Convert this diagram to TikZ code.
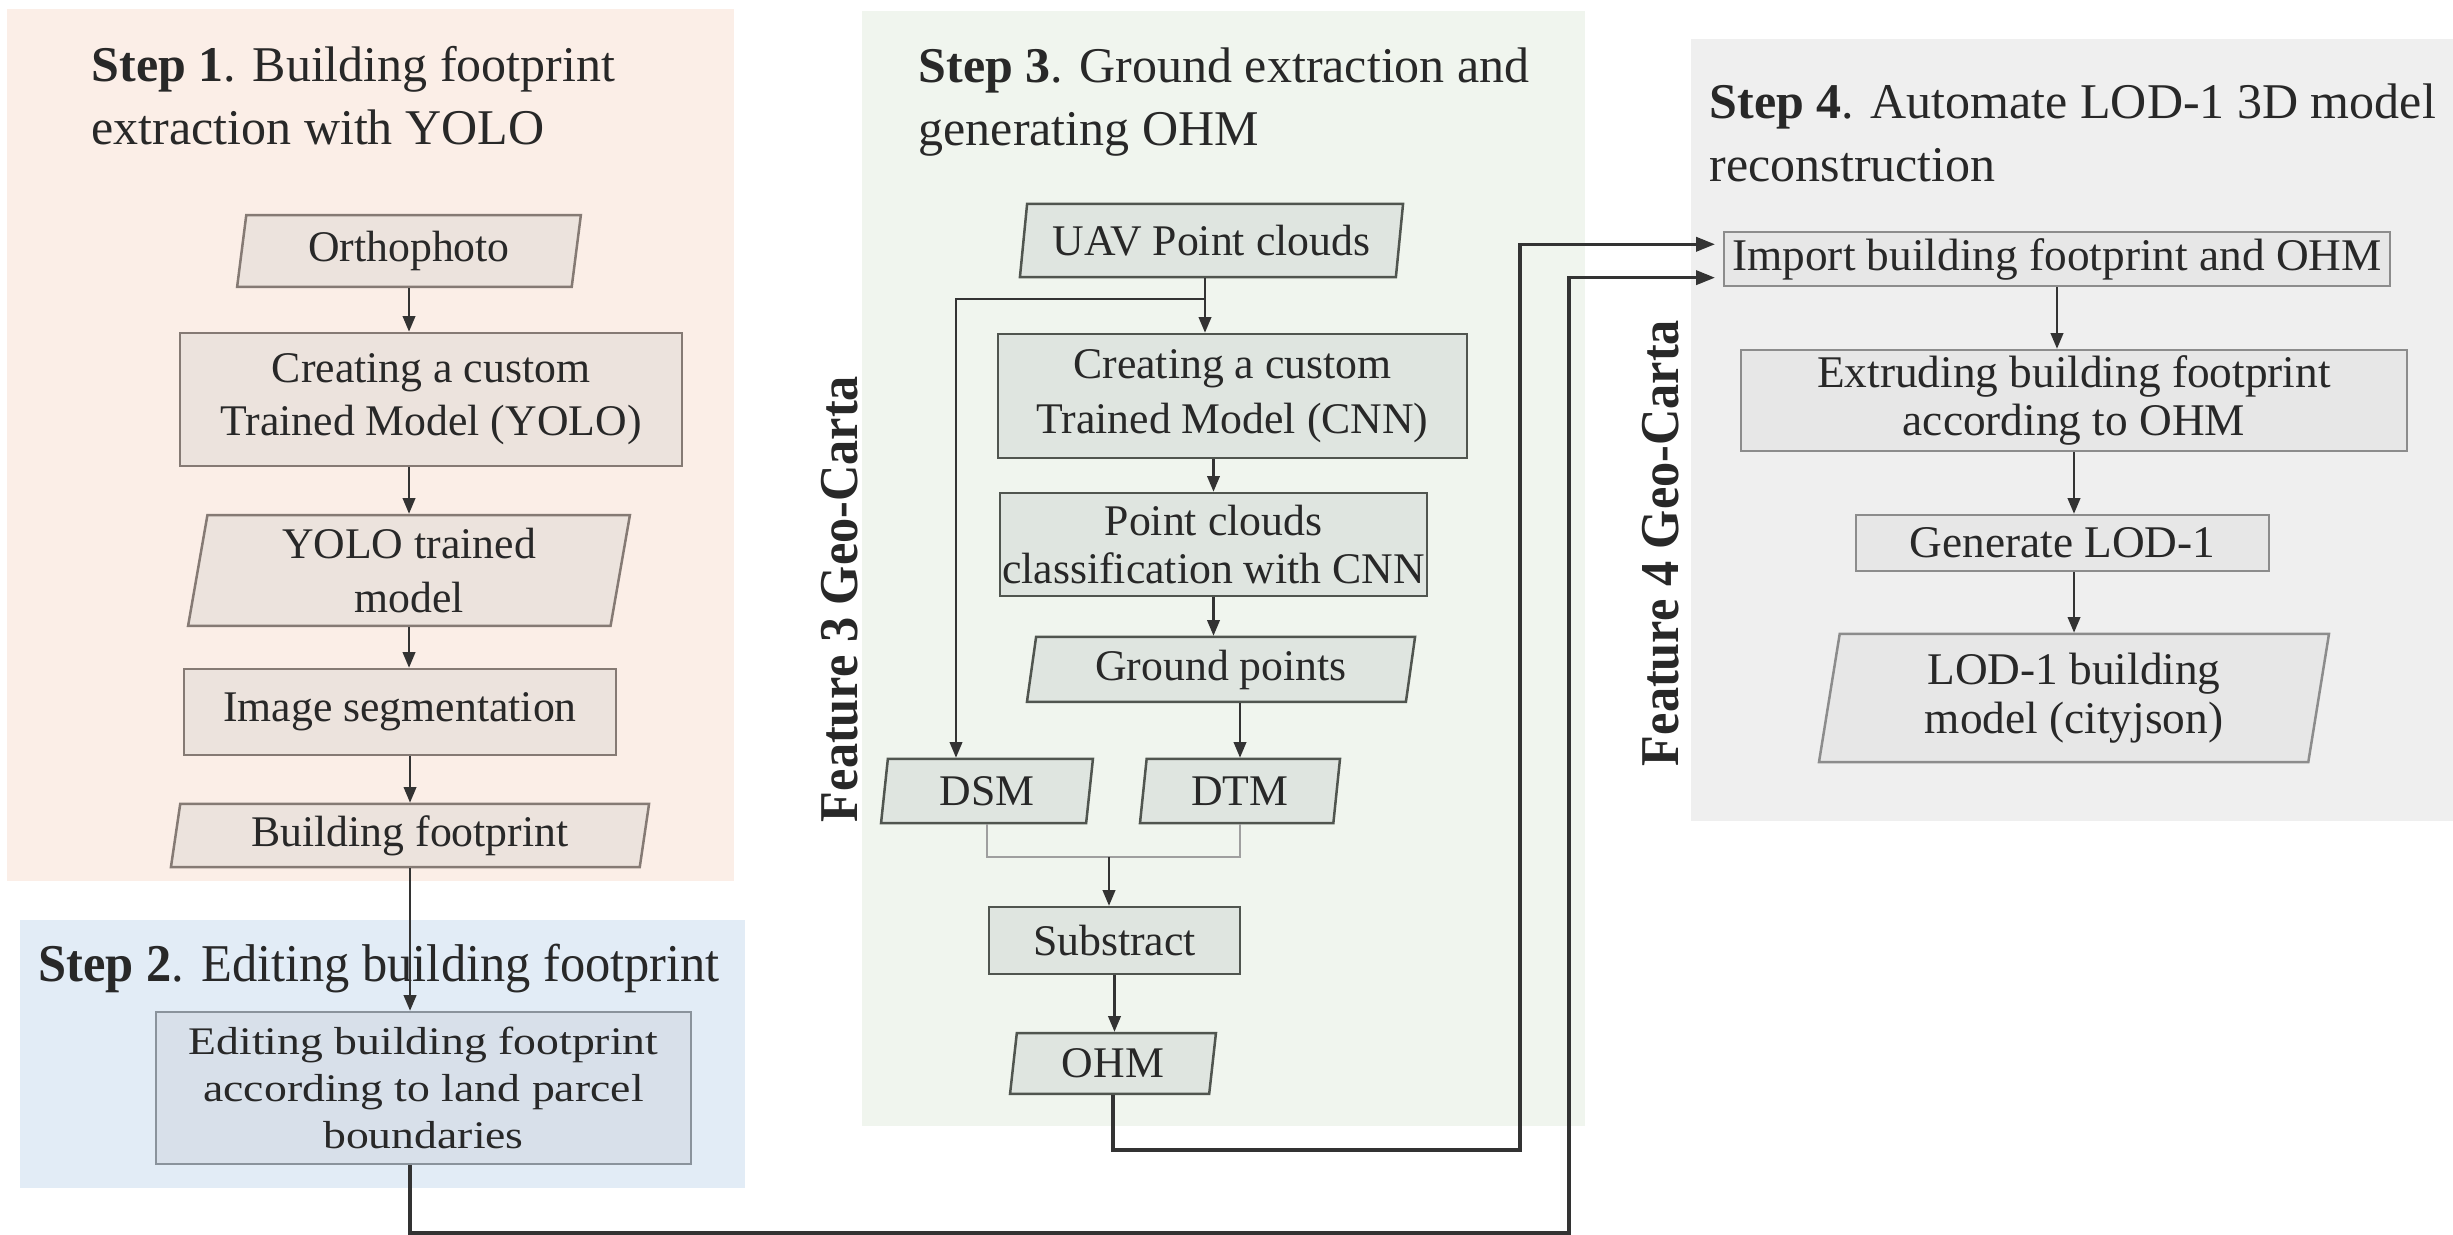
\documentclass[tikz,border=0pt]{standalone}
\usepackage{fontspec}
\setmainfont{Liberation Serif}
\newfontfamily\wideserif[FakeStretch=1.17]{Liberation Serif}
\newfontfamily\titleserif[FakeStretch=0.95]{Liberation Serif}
\newfontfamily\featserif[FakeStretch=0.92]{Liberation Serif}
\usetikzlibrary{shapes.geometric,arrows.meta,calc}
\definecolor{pOne}{HTML}{FBEEE7}
\definecolor{nOne}{HTML}{ECE3DD}
\definecolor{bOne}{HTML}{857A74}
\definecolor{pTwo}{HTML}{E2ECF6}
\definecolor{nTwo}{HTML}{D8E0EA}
\definecolor{bTwo}{HTML}{8A939C}
\definecolor{pThree}{HTML}{F0F5EE}
\definecolor{nThree}{HTML}{DFE5E0}
\definecolor{bThree}{HTML}{50554F}
\definecolor{pFour}{HTML}{EFEFEF}
\definecolor{nFour}{HTML}{E7E7E7}
\definecolor{bFour}{HTML}{8C8C8C}
\definecolor{txt}{HTML}{282828}
\definecolor{lnk}{HTML}{333333}
\tikzset{
  proc/.style={rectangle, draw, line width=0.8pt, inner sep=0pt, align=center, text=txt,
    font=\fontsize{14}{17}\selectfont},
  datain/.style={trapezium, trapezium left angle=77, trapezium right angle=103,
    trapezium stretches body=true, draw, line width=0.8pt, inner sep=0pt, align=center,
    text=txt, font=\fontsize{14}{17}\selectfont},
  title/.style={anchor=north west, inner sep=0pt, align=left, text=txt,
    font=\fontsize{16}{20.2}\selectfont},
  feat/.style={rotate=90, inner sep=0pt, text=txt, font=\featserif\fontsize{17.5}{20}\selectfont\bfseries},
  flow/.style={draw=lnk, line width=0.7pt, -{Triangle[length=5pt,width=4pt]}},
  link/.style={draw=lnk, line width=1pt, -{Triangle[length=6pt,width=4.5pt]}, shorten >=2.5pt},
  joinline/.style={draw=gray!75, line width=0.7pt},
  sone/.style={fill=nOne, draw=bOne},
  stwo/.style={fill=nTwo, draw=bTwo},
  sthree/.style={fill=nThree, draw=bThree},
  sfour/.style={fill=nFour, draw=bFour, font=\fontsize{14.5}{15.5}\selectfont},
}
\begin{document}
\begin{tikzpicture}[x=0.32pt,y=-0.32pt]
\useasboundingbox (0,0) rectangle (2453,1235);
% panels
\fill[pOne] (7,9) rectangle (734,881);
\fill[pTwo] (20,920) rectangle (745,1188);
\fill[pThree] (862,11) rectangle (1585,1126);
\fill[pFour] (1691,39) rectangle (2453,821);
% titles
\node[title] (t1) at (91,46) {\textbf{Step 1}. Building footprint\\extraction with YOLO};
\node[title, anchor=base west, font=\titleserif\fontsize{17}{20}\selectfont] (t2) at (38,982) {\textbf{Step 2}. Editing building footprint};
\node[title] (t3) at (918,47) {\textbf{Step 3}. Ground extraction and\\generating OHM};
\node[title] (t4) at (1709,83) {\textbf{Step 4}. Automate LOD-1 3D model\\reconstruction};
\node[feat] (f3) at (840,599) {Feature 3 Geo-Carta};
\node[feat] (f4) at (1661,543) {Feature 4 Geo-Carta};
% step 1
\node[datain, sone, minimum width=110pt, minimum height=23pt] (ortho) at (409,251) {Orthophoto};
\node[proc, sone, minimum width=160.6pt, minimum height=42.6pt] (cyolo) at (431,399.5) {Creating a custom\\Trained Model (YOLO)};
\node[datain, sone, minimum width=141.4pt, minimum height=35.5pt] (yolom) at (409,570.5) {YOLO trained\\model};
\node[proc, sone, minimum width=138.2pt, minimum height=27.5pt] (imgseg) at (400,712) {Image segmentation};
\node[datain, sone, minimum width=153pt, minimum height=20.2pt] (bfp) at (410,835.5) {Building footprint};
% step 2
\node[proc, stwo, minimum width=171.2pt, minimum height=48.6pt, font=\wideserif\fontsize{12.5}{15}\selectfont] (edit) at (423.5,1088) {Editing building footprint\\according to land parcel\\boundaries};
% step 3
\node[datain, sthree, minimum width=122.6pt, minimum height=23.4pt] (uav) at (1211.5,240.5) {UAV Point clouds};
\node[proc, sthree, minimum width=150pt, minimum height=39.7pt, font=\fontsize{14}{17.6}\selectfont] (cnn) at (1232.5,396) {Creating a custom\\Trained Model (CNN)};
\node[proc, sthree, minimum width=136.6pt, minimum height=33pt, font=\fontsize{14}{15.4}\selectfont] (pcc) at (1213.5,544.5) {Point clouds\\classification with CNN};
\node[datain, sthree, minimum width=124.2pt, minimum height=20.8pt] (gp) at (1221,669.5) {Ground points};
\node[datain, sthree, minimum width=67.8pt, minimum height=20.5pt] (dsm) at (987,791) {DSM};
\node[datain, sthree, minimum width=64pt, minimum height=20.5pt] (dtm) at (1240,791) {DTM};
\node[proc, sthree, minimum width=80.3pt, minimum height=21.4pt] (sub) at (1114.5,940.5) {Substract};
\node[datain, sthree, minimum width=65.9pt, minimum height=19.5pt] (ohm) at (1113,1063.5) {OHM};
% step 4
\node[proc, sfour, minimum width=213.1pt, minimum height=17.3pt] (imp) at (2057,259) {Import building footprint and OHM};
\node[proc, sfour, minimum width=213.1pt, minimum height=32.3pt] (ext) at (2074,400.5) {Extruding building footprint\\according to OHM};
\node[proc, sfour, minimum width=132.2pt, minimum height=17.9pt] (gen) at (2062.5,543) {Generate LOD-1};
\node[datain, sfour, minimum width=163.2pt, minimum height=41pt] (lod) at (2074,698) {LOD-1 building\\model (cityjson)};
% helper coordinates
\coordinate (j1) at (1205,299);
\coordinate (j2) at (956,299);
\coordinate (j3) at (1109,857);
\coordinate (r1) at (1520,1150);
\coordinate (r2) at (1569,1233);
\coordinate (ia) at ($(imp.north west)!0.24!(imp.south west)$);
\coordinate (ib) at ($(imp.north west)!0.83!(imp.south west)$);
% step 1 flow
\draw[flow] (ortho.south) -- (ortho.south |- cyolo.north);
\draw[flow] (yolom.north |- cyolo.south) -- (yolom.north);
\draw[flow] (yolom.south) -- (yolom.south |- imgseg.north);
\draw[flow] (bfp.north |- imgseg.south) -- (bfp.north);
\draw[flow] (bfp.south) -- (bfp.south |- edit.north);
% step 3 flow
\draw[draw=lnk, line width=0.7pt] (uav.south -| j1) -- (j1);
\draw[flow] (j1) -- (j1 |- cnn.north);
\draw[flow] (j1) -- (j2) -- (j2 |- dsm.north);
\draw[flow] (pcc.north |- cnn.south) -- (pcc.north);
\draw[flow] (pcc.south) -- (pcc.south |- gp.north);
\draw[flow] (dtm.north |- gp.south) -- (dtm.north);
\draw[joinline] (dsm.south) |- (j3) -| (dtm.south);
\draw[flow] (j3) -- (j3 |- sub.north);
\draw[flow] (sub.south) -- (sub.south |- ohm.north);
% step 4 flow
\draw[flow] (imp.south) -- (imp.south |- ext.north);
\draw[flow] (ext.south) -- (ext.south |- gen.north);
\draw[flow] (lod.north |- gen.south) -- (lod.north);
% long links
\draw[link] (ohm.south) |- (r1) |- (ia);
\draw[link] (bfp.south |- edit.south) |- (r2) |- (ib);
\end{tikzpicture}
\end{document}
